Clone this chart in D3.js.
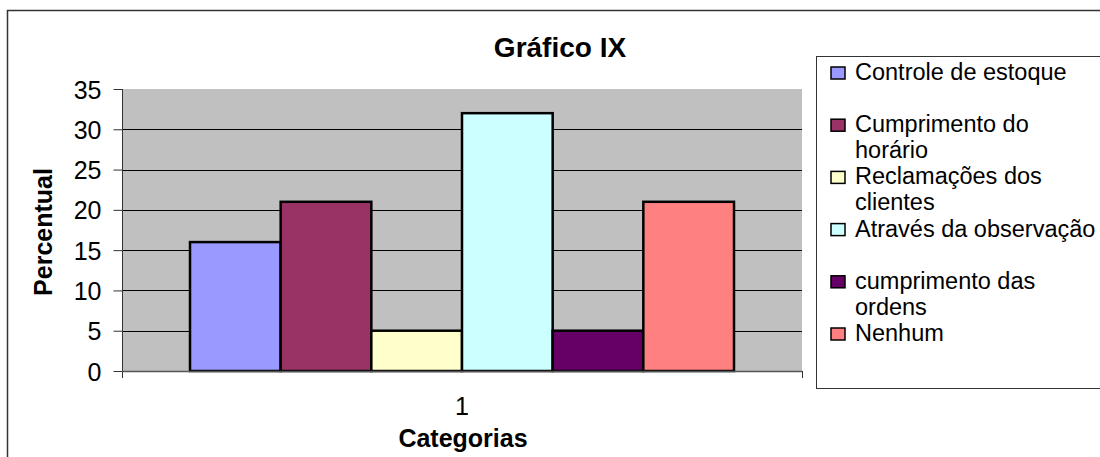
<!DOCTYPE html>
<html><head><meta charset="utf-8">
<script src="https://cdn.jsdelivr.net/npm/d3@7/dist/d3.min.js"></script>
<style>body{margin:0;background:#fff}svg{display:block}text{font-family:"Liberation Sans",Arial,sans-serif}</style>
</head><body><svg id="c" width="1100" height="457"></svg>
<script>
const title = "Gráfico IX";
const categories = ["1"];
const seriesNames = [["Controle de estoque"],["Cumprimento do","horário"],["Reclamações dos","clientes"],["Através da observação"],["cumprimento das","ordens"],["Nenhum"]];
const seriesValues = [16, 21, 5, 32, 5, 21];
const seriesColors = ["#9999FF","#993366","#FFFFCC","#CCFFFF","#660066","#FF8080"];
const yTicks = [0,5,10,15,20,25,30,35];
const yTitle = "Percentual";
const xTitle = "Categorias";

const svg = d3.select("#c");
// outer chart border
svg.append("rect").attr("x",7.5).attr("y",10.5).attr("width",1100).attr("height",460)
  .attr("fill","#fff").attr("stroke","#333").attr("stroke-width",1.5);

const L=122, R=802, T=89, B=371;
const y = d3.scaleLinear().domain([0,35]).range([B,T]);
const x0 = d3.scaleBand().domain(categories).range([L,R]).paddingInner(0).paddingOuter(0.1);
const x1 = d3.scaleBand().domain(d3.range(seriesValues.length)).range([190,734]).padding(0);

svg.append("rect").attr("x",L).attr("y",T).attr("width",R-L).attr("height",B-T).attr("fill","#C0C0C0");

// gridlines
svg.append("g").selectAll("line").data(yTicks.filter(d=>d>0 && d<35)).join("line")
  .attr("x1",L).attr("x2",R).attr("y1",d=>Math.round(y(d))+0.5).attr("y2",d=>Math.round(y(d))+0.5)
  .attr("stroke","#000").attr("stroke-width",1);

// bars
svg.append("g").selectAll("rect").data(seriesValues).join("rect")
  .attr("x",(d,i)=>x1(i)).attr("width",x1.bandwidth())
  .attr("y",d=>y(d)).attr("height",d=>B-y(d))
  .attr("fill",(d,i)=>seriesColors[i]).attr("stroke","#000").attr("stroke-width",2.5);

// y axis
const yAxis = d3.axisLeft(y).tickValues(yTicks).tickSize(9).tickPadding(12);
const ga = svg.append("g").attr("transform",`translate(${L+0.5},0)`).call(yAxis);
ga.select(".domain").attr("stroke","#333").attr("d",`M0,${T}V${B+7}`);
ga.selectAll(".tick line").attr("stroke","#333");
ga.selectAll(".tick text").attr("font-size",25).attr("fill","#000").attr("font-family","Liberation Sans, Arial, sans-serif").attr("dy","0.36em");

// x axis
svg.append("line").attr("x1",L).attr("x2",R).attr("y1",B+0.5).attr("y2",B+0.5).attr("stroke","#555").attr("stroke-width",1.5);
svg.append("line").attr("x1",R+0.5).attr("x2",R+0.5).attr("y1",B).attr("y2",B+7).attr("stroke","#333");
svg.append("g").selectAll("text").data(categories).join("text")
  .attr("x",d=>x0(d)+x0.bandwidth()/2).attr("y",415).attr("text-anchor","middle")
  .attr("font-size",25).text(d=>d);

// titles
svg.append("text").attr("x",560).attr("y",57).attr("text-anchor","middle")
  .attr("font-size",28).attr("font-weight","bold").text(title);
svg.append("text").attr("x",463).attr("y",447).attr("text-anchor","middle")
  .attr("font-size",25).attr("font-weight","bold").text(xTitle);
svg.append("text").attr("transform","translate(52,232) rotate(-90)").attr("text-anchor","middle")
  .attr("font-size",25).attr("font-weight","bold").text(yTitle);

// legend
svg.append("rect").attr("x",816.5).attr("y",56.5).attr("width",300).attr("height",332)
  .attr("fill","#fff").attr("stroke","#333").attr("stroke-width",1);
const lg = svg.append("g").selectAll("g").data(seriesNames).join("g")
  .attr("transform",(d,i)=>`translate(0,${80+i*52.2})`);
lg.append("rect").attr("x",831).attr("y",-13).attr("width",14).attr("height",12)
  .attr("fill",(d,i)=>seriesColors[i]).attr("stroke","#000").attr("stroke-width",1.5);
lg.each(function(d){
  const t = d3.select(this).append("text").attr("x",855).attr("y",0).attr("font-size",23.5);
  d.forEach((s,j)=>t.append("tspan").attr("x",855).attr("dy",j?26:0).text(s));
});
</script></body></html>
